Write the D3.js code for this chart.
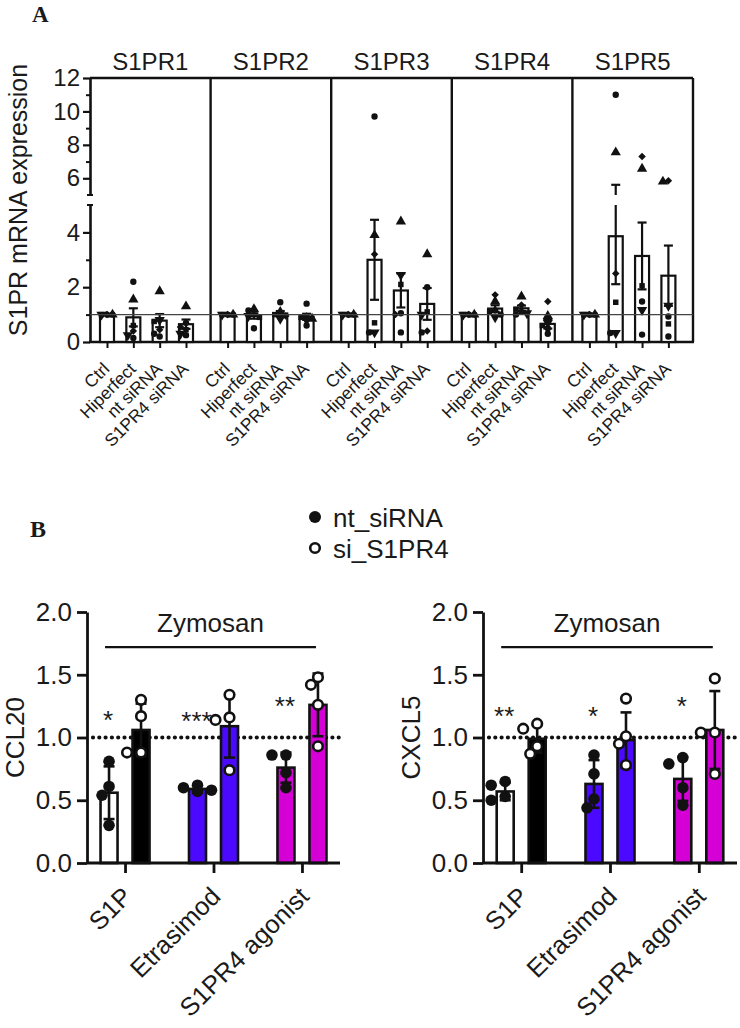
<!DOCTYPE html>
<html lang="en">
<head>
<meta charset="utf-8">
<title>S1PR expression</title>
<script src="https://cdn.jsdelivr.net/npm/d3@7"></script>
<style>
body { margin: 0; background: #fff; }
svg text { font-family: "Liberation Sans", Arial, sans-serif; fill: #1a1a1a; }
.tag { font-family: "Liberation Serif", "Times New Roman", serif; font-weight: bold; }
.axis path, .axis line { stroke: #111; fill: none; }
</style>
</head>
<body>
<script>
// ---------- panel A data ----------
var genes = ["S1PR1", "S1PR2", "S1PR3", "S1PR4", "S1PR5"];
var groupsA = ["Ctrl", "Hiperfect", "nt siRNA", "S1PR4 siRNA"];
var lowTicksA = [0, 2, 4], lowMinorA = [1, 3];
var highTicksA = [6, 8, 10, 12], highMinorA = [7, 9, 11];

// bar means and SEM, one row per gene
var meansA = [
  [1, 0.90, 0.78, 0.65],
  [1, 0.95, 1.04, 0.92],
  [1, 3.00, 1.88, 1.39],
  [1, 1.22, 1.23, 0.66],
  [1, 3.86, 3.14, 2.42]
];
var semA = [
  [0, 0.33, 0.24, 0.17],
  [0, 0.10, 0.09, 0.11],
  [0, 1.46, 0.62, 0.58],
  [0, 0.12, 0.10, 0.17],
  [0, 1.75, 1.22, 1.10]
];
// replicates (circle, square, triangle, diamond, down-triangle, circle)
var replicateShapes = ["circle", "square", "triangle", "diamond", "triDown", "circle"];
var s1pr1Pts = [[1,1,1,1,1,1], [2.2,0.6,1.55,0.4,0.25,0.15], [0.3,0.75,1.85,0.45,0.8,0.2], [0.7,0.45,1.3,0.55,0.3,0.25]];
var s1pr2Pts = [[1,1,1,1,1,1], [1.15,0.9,1.2,1.0,0.95,0.5], [1.45,1.0,1.1,0.95,0.85,0.9], [1.4,0.9,0.85,0.95,0.8,0.6]];
var s1pr3Pts = [[1,1,1,1,1,1], [9.7,0.7,3.9,3.2,0.35,0.35], [1.05,2.1,4.4,1.0,2.45,0.35], [2.0,1.1,3.2,0.4,1.0,0.35]];
var s1pr4Pts = [[1,1,1,1,1,1], [1.0,1.1,1.48,1.72,0.9,1.15], [1.1,1.2,1.66,1.35,1.05,1.0], [0.3,0.6,0.95,1.48,0.7,0.5]];
var s1pr5Pts = [[1,1,1,1,1,1], [11.0,1.45,7.55,2.5,0.33,0.33], [1.48,2.05,6.57,7.3,1.17,0.27], [0.93,0.66,5.8,5.85,1.32,0.2]];
var pointsA = [s1pr1Pts, s1pr2Pts, s1pr3Pts, s1pr4Pts, s1pr5Pts];

// ---------- panel B data ----------
var treatments = ["S1P", "Etrasimod", "S1PR4 agonist"];
var ntFill = ["#ffffff", "#4b0aff", "#d400d6"];
var siFill = ["#000000", "#4b0aff", "#d400d6"];
var ticksB = [0, 0.5, 1.0, 1.5, 2.0];
var legendB = ["nt_siRNA", "si_S1PR4"];

var ccl20NtMean = [0.56, 0.59, 0.76], ccl20NtSd = [0.21, 0.03, 0.12];
var ccl20SiMean = [1.06, 1.09, 1.26], ccl20SiSd = [0.21, 0.25, 0.25];
var ccl20NtPts = [[0.81, 0.61, 0.54, 0.30], [0.62, 0.60, 0.58, 0.57], [0.86, 0.86, 0.72, 0.60]];
var ccl20SiPts = [[1.30, 1.17, 0.88, 0.88], [1.34, 1.16, 1.14, 0.74], [1.48, 1.42, 1.26, 0.93]];
var ccl20Stars = ["*", "***", "**"], ccl20StarY = [1.19, 1.18, 1.30];

var cxcl5NtMean = [0.57, 0.63, 0.67], cxcl5NtSd = [0.07, 0.19, 0.175];
var cxcl5SiMean = [0.99, 0.98, 1.06], cxcl5SiSd = [0.11, 0.22, 0.31];
var cxcl5NtPts = [[0.65, 0.62, 0.53, 0.50], [0.86, 0.71, 0.51, 0.44], [0.84, 0.79, 0.60, 0.46]];
var cxcl5SiPts = [[1.11, 1.07, 0.93, 0.87], [1.31, 1.01, 0.95, 0.78], [1.47, 1.04, 1.04, 0.71]];
var cxcl5Stars = ["**", "*", "*"], cxcl5StarY = [1.22, 1.22, 1.30];

var zymoY = 1.72, zymoTextY = 1.84;

var svg = d3.select("body").append("svg")
  .attr("width", 740)
  .attr("height", 1028);

// spread points sideways so they don't sit on top of each other
function dodge(vals, yfn, minDist, step, maxSteps) {
  var order = d3.range(vals.length).sort(function(a, b) { return vals[b] - vals[a]; });
  var cands = [0];
  for (var s = 1; s <= maxSteps; s++) cands.push(-s * step, s * step);
  var placed = [], offs = [];
  order.forEach(function(i) {
    var y = yfn(vals[i]), best = 0, bestHits = Infinity;
    cands.forEach(function(c) {
      var hits = placed.filter(function(p) { return Math.hypot(p[0] - c, p[1] - y) < minDist; }).length;
      if (hits < bestHits) { bestHits = hits; best = c; }
    });
    placed.push([best, y]);
    offs[i] = best;
  });
  return offs;
}

// ================= PANEL A =================
svg.append("text").attr("class", "tag").attr("x", 32).attr("y", 22)
  .style("font-size", "23px").text("A");

var xGene = d3.scaleBand().domain(genes).range([90, 693]);
var xGroup = d3.scalePoint().domain(groupsA).range([17, 96]);
var yLow = d3.scaleLinear().domain([0, 5]).range([342, 205]);
var yHigh = d3.scaleLinear().domain([5, 12]).range([195, 78]);
function yA(v) { return v <= 5 ? yLow(v) : yHigh(v); }

// y axis, broken at 5
[[yLow, lowTicksA, lowMinorA], [yHigh, highTicksA, highMinorA]].forEach(function(s) {
  svg.append("g").attr("class", "axis").attr("transform", "translate(90,0)")
    .call(d3.axisLeft(s[0]).tickValues(s[2]).tickSize(4).tickFormat("").tickSizeOuter(0))
    .selectAll("path, line").attr("stroke-width", 2);
  var ax = svg.append("g").attr("class", "axis").attr("transform", "translate(90,0)")
    .call(d3.axisLeft(s[0]).tickValues(s[1]).tickFormat(d3.format("d"))
      .tickSize(7).tickPadding(3).tickSizeOuter(0));
  ax.selectAll("path, line").attr("stroke-width", 2.2);
  ax.selectAll("text").style("font-size", "24px").attr("fill", "#1a1a1a");
});
[yLow(5), yHigh(5)].forEach(function(y) {
  svg.append("line").attr("x1", 87).attr("x2", 93).attr("y1", y).attr("y2", y)
    .attr("stroke", "#111").attr("stroke-width", 2);
});

svg.append("text")
  .attr("transform", "translate(27,200) rotate(-90)")
  .attr("text-anchor", "middle")
  .style("font-size", "25px")
  .text("S1PR mRNA expression");

// frame
svg.append("line").attr("x1", 90).attr("x2", 693).attr("y1", yHigh(12)).attr("y2", yHigh(12))
  .attr("stroke", "#111").attr("stroke-width", 2.4);
svg.append("line").attr("x1", 89).attr("x2", 694).attr("y1", yLow(0)).attr("y2", yLow(0))
  .attr("stroke", "#111").attr("stroke-width", 2.4);
genes.forEach(function(g) {
  var xe = xGene(g) + xGene.bandwidth();
  svg.append("line").attr("x1", xe).attr("x2", xe).attr("y1", yHigh(12)).attr("y2", yLow(0))
    .attr("stroke", "#111").attr("stroke-width", 2.4);
});

var symbolTypes = {
  circle: [d3.symbolCircle, 32, 0],
  square: [d3.symbolSquare, 30, 0],
  triangle: [d3.symbolTriangle, 46, 0],
  diamond: [d3.symbolSquare, 28, 45],
  triDown: [d3.symbolTriangle, 46, 180]
};

genes.forEach(function(g, gi) {
  var gx = xGene(g);
  var pg = svg.append("g").attr("transform", "translate(" + gx + ",0)");

  // title
  pg.append("text").attr("x", xGene.bandwidth() / 2).attr("y", 70)
    .attr("text-anchor", "middle").style("font-size", "24px").text(g);

  // x ticks and labels
  var xa = pg.append("g").attr("class", "axis").attr("transform", "translate(0," + yLow(0) + ")")
    .call(d3.axisBottom(xGroup).tickSize(6).tickSizeOuter(0));
  xa.select(".domain").remove();
  xa.selectAll("line").attr("stroke-width", 2);
  xa.selectAll("text")
    .attr("x", 0).attr("y", 0).attr("dy", 0)
    .attr("transform", "translate(3,28) rotate(-45)")
    .style("text-anchor", "end")
    .style("font-size", "17.5px")
    .attr("fill", "#1a1a1a");

  groupsA.forEach(function(grp, k) {
    var cx = xGroup(grp), m = meansA[gi][k], e = semA[gi][k];
    pg.append("rect")
      .attr("x", cx - 7).attr("width", 14)
      .attr("y", yA(m)).attr("height", yLow(0) - yA(m))
      .attr("fill", "#fff").attr("stroke", "#111").attr("stroke-width", 2.2);

    if (e > 0) {
      var lo = m - e, hi = m + e;
      var segs = hi <= 5 ? [[lo, hi, yLow]] : [[lo, 5, yLow], [5, hi, yHigh]];
      segs.forEach(function(s) {
        pg.append("line").attr("x1", cx).attr("x2", cx)
          .attr("y1", s[2](s[0])).attr("y2", s[2](s[1]))
          .attr("stroke", "#111").attr("stroke-width", 2.2);
      });
      [lo, hi].forEach(function(v) {
        pg.append("line").attr("x1", cx - 4.5).attr("x2", cx + 4.5)
          .attr("y1", yA(v)).attr("y2", yA(v))
          .attr("stroke", "#111").attr("stroke-width", 2.2);
      });
    }

    var vals = pointsA[gi][k];
    var offs = dodge(vals, yA, 5, 5.5, 1);
    vals.forEach(function(v, i) {
      var st = symbolTypes[replicateShapes[i]];
      pg.append("path")
        .attr("d", d3.symbol().type(st[0]).size(st[1])())
        .attr("transform", "translate(" + (cx + offs[i]) + "," + yA(v) + ") rotate(" + st[2] + ")")
        .attr("fill", "#111");
    });
  });
});

// reference line at 1
svg.append("line").attr("x1", 90).attr("x2", 693).attr("y1", yLow(1)).attr("y2", yLow(1))
  .attr("stroke", "#444").attr("stroke-width", 1.4);

// ================= PANEL B =================
svg.append("text").attr("class", "tag").attr("x", 30).attr("y", 537)
  .style("font-size", "24px").text("B");

// legend
legendB.forEach(function(name, i) {
  var ly = 517 + i * 31;
  svg.append("circle").attr("cx", 315).attr("cy", ly).attr("r", i === 0 ? 6 : 4.8)
    .attr("fill", i === 0 ? "#111" : "#fff").attr("stroke", "#111").attr("stroke-width", i === 0 ? 0 : 2.6);
  svg.append("text").attr("x", 333).attr("y", ly + 9.5).style("font-size", "26px").text(name);
});

var yB = d3.scaleLinear().domain([0, 2]).range([863, 612]);

function chartB(x0, x1, yLabel, labelX, ntMean, ntSd, ntPts, siMean, siSd, siPts, stars, starY) {
  var xB = d3.scalePoint().domain(treatments).range([x0, x1]).padding(0.43);
  var g = svg.append("g");

  // y axis
  var ay = g.append("g").attr("class", "axis").attr("transform", "translate(" + x0 + ",0)")
    .call(d3.axisLeft(yB).tickValues(ticksB).tickFormat(d3.format(".1f")).tickSize(10).tickPadding(5).tickSizeOuter(0));
  ay.selectAll("path, line").attr("stroke-width", 2.8);
  ay.selectAll("text").style("font-size", "26px").attr("fill", "#1a1a1a");

  g.append("text")
    .attr("transform", "translate(" + labelX + "," + yB(1.0) + ") rotate(-90)")
    .attr("text-anchor", "middle").style("font-size", "26px").text(yLabel);

  // dotted line at 1.0
  g.append("line").attr("x1", x0 + 6).attr("x2", x1).attr("y1", yB(1)).attr("y2", yB(1))
    .attr("stroke", "#111").attr("stroke-width", 4.2)
    .attr("stroke-linecap", "round").attr("stroke-dasharray", "0 6.3");

  treatments.forEach(function(t, k) {
    var cx = xB(t);
    [[cx - 16, ntMean[k], ntSd[k], ntPts[k], ntFill[k], true],
     [cx + 16, siMean[k], siSd[k], siPts[k], siFill[k], false]].forEach(function(b) {
      var bx = b[0];
      g.append("rect")
        .attr("x", bx - 8.5).attr("width", 17)
        .attr("y", yB(b[1])).attr("height", yB(0) - yB(b[1]))
        .attr("fill", b[4]).attr("stroke", "#111").attr("stroke-width", 2.6);
      var lo = b[1] - b[2], hi = b[1] + b[2];
      g.append("line").attr("x1", bx).attr("x2", bx).attr("y1", yB(lo)).attr("y2", yB(hi))
        .attr("stroke", "#111").attr("stroke-width", 2.6);
      [lo, hi].forEach(function(v) {
        g.append("line").attr("x1", bx - 5.5).attr("x2", bx + 5.5).attr("y1", yB(v)).attr("y2", yB(v))
          .attr("stroke", "#111").attr("stroke-width", 2.6);
      });
      var offs = dodge(b[3], yB, 10, 7, 2);
      b[3].forEach(function(v, i) {
        g.append("circle").attr("cx", bx + offs[i]).attr("cy", yB(v))
          .attr("r", b[5] ? 5.8 : 4.8)
          .attr("fill", b[5] ? "#111" : "#fff")
          .attr("stroke", "#111").attr("stroke-width", b[5] ? 0 : 2.6);
      });
    });
    // significance stars over the nt bar
    g.append("text").attr("x", cx - 17).attr("y", yB(starY[k]) + 15)
      .attr("text-anchor", "middle").style("font-size", "26px").text(stars[k]);
  });

  // x axis
  var ax = g.append("g").attr("class", "axis").attr("transform", "translate(0," + yB(0) + ")")
    .call(d3.axisBottom(xB).tickSize(10).tickSizeOuter(0));
  ax.select(".domain").attr("d", "M" + x0 + ",0H" + x1);
  ax.selectAll("path, line").attr("stroke-width", 2.8);
  ax.selectAll("text")
    .attr("x", 0).attr("y", 0).attr("dy", 0)
    .attr("transform", "translate(8,35) rotate(-45)")
    .style("text-anchor", "end")
    .style("font-size", "25.5px")
    .attr("fill", "#1a1a1a");

  // Zymosan bar
  var zx0 = xB(treatments[0]) - 20, zx1 = xB(treatments[2]) + 14;
  g.append("line").attr("x1", zx0).attr("x2", zx1).attr("y1", yB(zymoY)).attr("y2", yB(zymoY))
    .attr("stroke", "#111").attr("stroke-width", 2.4);
  g.append("text").attr("x", (zx0 + zx1) / 2).attr("y", yB(zymoTextY))
    .attr("text-anchor", "middle").style("font-size", "26px").text("Zymosan");
}

chartB(87, 340, "CCL20", 24, ccl20NtMean, ccl20NtSd, ccl20NtPts, ccl20SiMean, ccl20SiSd, ccl20SiPts, ccl20Stars, ccl20StarY);
chartB(483, 737, "CXCL5", 420, cxcl5NtMean, cxcl5NtSd, cxcl5NtPts, cxcl5SiMean, cxcl5SiSd, cxcl5SiPts, cxcl5Stars, cxcl5StarY);
</script>
</body>
</html>
